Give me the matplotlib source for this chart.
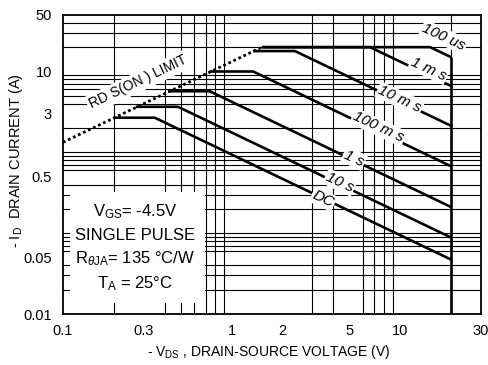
import numpy as np
import matplotlib.pyplot as plt
from matplotlib.ticker import LogLocator, NullFormatter, FixedLocator, FixedFormatter

# fonte parecida com a do datasheet
plt.rcParams['font.family'] = ['Liberation Sans Narrow', 'Liberation Sans', 'DejaVu Sans']
plt.rcParams['mathtext.fontset'] = 'custom'
plt.rcParams['mathtext.rm'] = 'Liberation Sans'
plt.rcParams['mathtext.it'] = 'Liberation Sans:italic'

# Curvas da area de operacao segura (V, A)
rdsV = [0.1, 1.51]
rdsI = [1.33, 20]

us100V = [1.51, 15, 20]
us100I = [20, 20, 15]

ms1V = [1.51, 6.6, 20]
ms1I = [20, 20, 6.6]

ms10V = [1.34, 2.37, 20]
ms10I = [17.9, 17.9, 2.12]

ms100V = [0.74, 1.34, 20]
ms100I = [10, 10, 0.67]

s1V = [0.42, 0.74, 20]
s1I = [5.7, 5.7, 0.21]

s10V = [0.27, 0.48, 20]
s10I = [3.66, 3.66, 0.088]

dcV = [0.2, 0.35, 20]
dcI = [2.68, 2.68, 0.047]

limiteV = [20, 20]
limiteI = [15, 0.01]

# rotulos das curvas
rotulos = ['100 us', '1 m s', '10 m s', '100 m s', '1 s', '10 s', 'DC']
rotulosV = [18.1, 14.7, 9.9, 7.4, 5.3, 4.37, 3.48]
rotulosI = [26.7, 10.7, 4.56, 2.04, 0.84, 0.425, 0.264]

xticks = [0.1, 0.3, 1, 2, 5, 10, 30]
xticksTxt = ['0.1', '0.3', '1', '2', '5', '10', '30']
yticks = [0.01, 0.05, 0.5, 3, 10, 50]
yticksTxt = ['0.01', '0.05', '0.5', '3', '10', '50']

fig = plt.figure(figsize=(4.88, 3.65), dpi=100)
ax = fig.add_axes([63/488, 51/365, 418/488, 299/365])

ax.set_xscale('log')
ax.set_yscale('log')
ax.set_xlim(0.1, 30)
ax.set_ylim(0.01, 50)

ax.xaxis.set_major_locator(FixedLocator(xticks))
ax.xaxis.set_major_formatter(FixedFormatter(xticksTxt))
ax.yaxis.set_major_locator(FixedLocator(yticks))
ax.yaxis.set_major_formatter(FixedFormatter(yticksTxt))
ax.xaxis.set_minor_locator(LogLocator(base=10, subs=np.arange(1, 10)))
ax.yaxis.set_minor_locator(LogLocator(base=10, subs=np.arange(1, 10)))
ax.xaxis.set_minor_formatter(NullFormatter())
ax.yaxis.set_minor_formatter(NullFormatter())

ax.grid(which='minor', color='black', lw=0.8)
ax.tick_params(which='both', length=0, labelsize=10.5)
ax.tick_params(axis='x', pad=7)
ax.tick_params(axis='y', pad=8)
for s in ax.spines.values():
    s.set_linewidth(1.3)

# caixa branca com as condicoes
ax.add_patch(plt.Rectangle((0.11, 0.0137), 0.69 - 0.11, 0.32 - 0.0137,
                           facecolor='white', edgecolor='none', zorder=2))

lw = 1.9
ax.plot(rdsV, rdsI, color='black', lw=2, ls=(0, (1, 1)), zorder=3)
for v, i in [(us100V, us100I), (ms1V, ms1I), (ms10V, ms10I), (ms100V, ms100I),
             (s1V, s1I), (s10V, s10I), (dcV, dcI), (limiteV, limiteI)]:
    ax.plot(v, i, color='black', lw=lw, zorder=3, solid_capstyle='butt')

for txt, v, i in zip(rotulos, rotulosV, rotulosI):
    ax.text(v, i, txt, rotation=-25, ha='center', va='center', fontsize=11,
            style='italic', zorder=4,
            bbox=dict(facecolor='white', edgecolor='none', pad=1))

ax.text(0.28, 7.4, 'RD S(ON ) LIMIT', rotation=25.5, ha='center', va='center',
        fontsize=10, zorder=4, bbox=dict(facecolor='white', edgecolor='none', pad=2))

# condicoes de teste
cond = ['V$_{\\rm GS}$= -4.5V', 'SINGLE PULSE', 'R$_{\\theta \\rm JA}$= 135 °C/W', 'T$_{\\rm A}$ = 25°C']
cy = [0.342, 0.264, 0.186, 0.103]
for t, y in zip(cond, cy):
    ax.text(0.172, y, t, transform=ax.transAxes, ha='center', va='center',
            fontsize=12, zorder=5)

fig.text(269/488, 1 - 352/365, '- V$_{\\rm DS}$ , DRAIN-SOURCE VOLTAGE (V)',
         ha='center', va='center', fontsize=10)
fig.text(16/488, 1 - 161/365, '- I$_{\\rm D}$  DRAIN CURRENT (A)',
         ha='center', va='center', fontsize=10.5, rotation=90)

fig.savefig('out.png', dpi=100)
